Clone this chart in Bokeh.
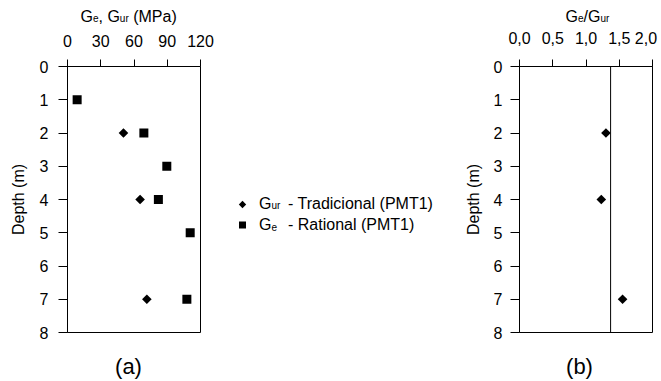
import math
from bokeh.plotting import figure
from bokeh.models import Range1d, FixedTicker, Label, Span, CustomJSTickFormatter
from bokeh.layouts import row, column
from bokeh.embed import file_html
from bokeh.resources import INLINE

# ---------------- data ----------------
depth_ge = [1, 2, 3, 4, 5, 7]
ge_mpa = [8.7, 68.9, 89.6, 82.0, 110.7, 107.7]          # Ge - Rational (PMT1)
depth_gur = [2, 4, 7]
gur_mpa = [50.5, 65.5, 71.6]                            # Gur - Tradicional (PMT1)
depth_ratio = [2, 4, 7]
ratio = [1.30, 1.23, 1.55]                              # Ge/Gur
mean_ratio = 1.37
depth_ticks = [0, 1, 2, 3, 4, 5, 6, 7, 8]
g_ticks = [0, 30, 60, 90, 120]
ratio_ticks = [0.0, 0.5, 1.0, 1.5, 2.0]

FONT = "Liberation Sans"
BIG, SMALL = 16, 10
W = 661
TOP_H, MID_H, BOT_H = 25, 321, 35
B_TOP, B_BOT = 41, 14

ADV = {'G': 0.778, 'e': 0.556, ',': 0.278, ' ': 0.278, 'u': 0.556, 'r': 0.333,
       '(': 0.333, ')': 0.333, 'M': 0.833, 'P': 0.667, 'a': 0.556, '/': 0.278}


def tw(s, size):
    return sum(ADV.get(c, 0.556) for c in s) * size


def mid(baseline, size):
    # vertical centre of the text box (ascent 0.905, descent 0.212) for a given baseline
    return baseline - (0.905 - 0.212) / 2 * size


def add_text(p, x, baseline, txt, size, align="left", x_offset=0.0):
    p.add_layout(Label(x=x, y=mid(baseline, size), x_offset=x_offset, text=txt,
                       text_font=FONT, text_font_size=f"{size}px",
                       text_baseline="middle", text_align=align, text_color="black"))


def add_pieces(p, pieces, x, baseline):
    cur = 0.0
    for txt, size in pieces:
        stripped = txt.lstrip(" ")
        cur += tw(txt[:len(txt) - len(stripped)], size)
        add_text(p, x, baseline, stripped, size, x_offset=cur)
        cur += tw(stripped, size)


def blank_fig(width, height, x0, y0, b_top=0, b_bot=0):
    f = figure(width=width, height=height, x_range=Range1d(x0, x0 + width),
               y_range=Range1d(y0 + height - b_bot, y0 + b_top), toolbar_location=None,
               output_backend="svg", x_axis_type=None, y_axis_type=None,
               min_border_left=0, min_border_right=0, min_border_top=b_top,
               min_border_bottom=b_bot)
    f.grid.visible = False
    f.outline_line_color = None
    return f


def style_axes(p, label_standoff_y, axis_label_standoff):
    xa = p.xaxis[0]
    xa.major_tick_out = 7
    xa.major_tick_in = 0
    xa.minor_tick_out = 0
    xa.minor_tick_in = 0
    xa.major_label_standoff = 13
    ya = p.yaxis[0]
    ya.ticker = FixedTicker(ticks=depth_ticks)
    ya.major_tick_out = 9
    ya.major_tick_in = 0
    ya.minor_tick_out = 0
    ya.minor_tick_in = 0
    ya.major_label_standoff = label_standoff_y
    ya.axis_label = "Depth (m)"
    ya.axis_label_standoff = axis_label_standoff
    ya.axis_label_text_font = FONT
    ya.axis_label_text_font_size = "16px"
    ya.axis_label_text_font_style = "normal"
    ya.axis_label_text_color = "black"
    for a in (xa, ya):
        a.axis_line_color = "black"
        a.major_tick_line_color = "black"
        a.major_label_text_font = FONT
        a.major_label_text_font_size = "16px"
        a.major_label_text_color = "black"
    p.grid.visible = False
    p.outline_line_color = "black"
    p.outline_line_alpha = 1.0
    p.outline_line_width = 1


# ---------------- top strip: axis titles ----------------
top = blank_fig(W, TOP_H, 0, 0)
add_pieces(top, [("G", BIG), ("e", SMALL), (", G", BIG), ("ur", SMALL), (" (MPa)", BIG)], 80, 21.4)
add_pieces(top, [("G", BIG), ("e", SMALL), ("/G", BIG), ("ur", SMALL)], 565, 21.4)

# ---------------- panel (a) ----------------
pA = figure(width=222, height=MID_H, x_range=Range1d(0, 120), y_range=Range1d(8, 0),
            x_axis_location="above", toolbar_location=None, output_backend="svg",
            min_border_left=67, min_border_right=22, min_border_top=B_TOP, min_border_bottom=B_BOT)
pA.xaxis[0].ticker = FixedTicker(ticks=g_ticks)
style_axes(pA, 10, 10)
pA.scatter(gur_mpa, depth_gur, marker="square", angle=math.pi / 4, size=6.8,
           fill_color="black", line_color=None)
pA.scatter(ge_mpa, depth_ge, marker="square", size=9, fill_color="black", line_color=None)

# ---------------- legend ----------------
leg = blank_fig(226, MID_H, 222, TOP_H, B_TOP, B_BOT)
leg.scatter([242], [204], marker="square", angle=math.pi / 4, size=5.2,
            fill_color="black", line_color=None)
leg.scatter([242], [224.5], marker="square", size=7, fill_color="black", line_color=None)
add_pieces(leg, [("G", BIG), ("ur", SMALL)], 258.5, 208.5)
add_pieces(leg, [("G", BIG), ("e", SMALL)], 258.5, 229.5)
add_text(leg, 287.5, 208.5, "- Tradicional (PMT1)", 16)
add_text(leg, 287.5, 229.5, "- Rational (PMT1)", 16)

# ---------------- panel (b) ----------------
pB = figure(width=213, height=MID_H, x_range=Range1d(0, 2), y_range=Range1d(8, 0),
            x_axis_location="above", toolbar_location=None, output_backend="svg",
            min_border_left=71, min_border_right=9, min_border_top=B_TOP, min_border_bottom=B_BOT)
pB.xaxis[0].ticker = FixedTicker(ticks=ratio_ticks)
pB.xaxis[0].formatter = CustomJSTickFormatter(
    code="var s = tick.toFixed(1).replace('.', ','); "
         "if (Math.abs(tick - 2) < 1e-9) { s = s + '\\u00a0'; } return s;")
style_axes(pB, 8, 9)
pB.add_layout(Span(location=mean_ratio, dimension="height", line_color="black", line_width=1))
pB.scatter(ratio, depth_ratio, marker="square", angle=math.pi / 4, size=6.8,
           fill_color="black", line_color=None)

# ---------------- bottom strip: panel letters ----------------
bot = blank_fig(W, BOT_H, 0, TOP_H + MID_H)
add_text(bot, 128, 374, "(a)", 22, align="center")
add_text(bot, 579, 374, "(b)", 22, align="center")

layout = column(top, row(pA, leg, pB), bot)
open("out.html", "w").write(file_html(layout, INLINE))
